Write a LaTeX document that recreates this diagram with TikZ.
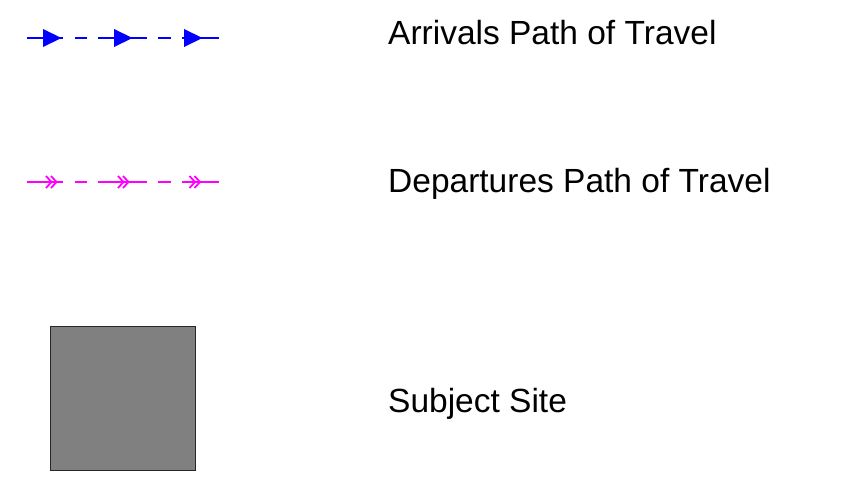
\documentclass[tikz,border=0pt]{standalone}
\usepackage{fontspec}
\setmainfont{Liberation Sans}
\definecolor{arrblue}{RGB}{0,0,255}
\definecolor{depmag}{RGB}{255,0,255}
\definecolor{sitegray}{RGB}{128,128,128}
\tikzset{
  legendtext/.style={anchor=base west, inner sep=0pt, font=\fontsize{33.5}{40}\selectfont},
  arrline/.style={draw=arrblue, line width=1.1pt},
  depline/.style={draw=depmag, line width=1.1pt},
  arrhead/.pic={\fill[arrblue] (0,-9) -- (18.5,0) -- (0,9) -- cycle;},
  dephead/.pic={
    \draw[depmag, line width=1.8pt, line join=miter] (0,-6) -- (5.5,0) -- (0,6);
    \draw[depmag, line width=1.8pt, line join=miter] (5,-6) -- (10.5,0) -- (5,6);
  },
}
\begin{document}
\begin{tikzpicture}[x=1pt, y=-1pt]
  \useasboundingbox (0,0) rectangle (849,479);

  % arrivals symbol
  \draw[arrline] (26.5,38) -- (63,38);
  \draw[arrline] (75,38) -- (86.5,38);
  \draw[arrline] (98,38) -- (147,38);
  \draw[arrline] (158,38) -- (170.5,38);
  \draw[arrline] (182,38) -- (219,38);
  \pic at (43,38) {arrhead};
  \pic at (114,38) {arrhead};
  \pic at (184,38) {arrhead};

  % departures symbol
  \draw[depline] (26.5,182) -- (63,182);
  \draw[depline] (74.5,182) -- (86.5,182);
  \draw[depline] (98,182) -- (147,182);
  \draw[depline] (158,182) -- (170.5,182);
  \draw[depline] (182,182) -- (219,182);
  \pic at (46,182) {dephead};
  \pic at (118,182) {dephead};
  \pic at (189.5,182) {dephead};

  % subject site
  \filldraw[fill=sitegray, draw=black!85, line width=0.9pt] (50.5,326) rectangle (195,470.5);

  % labels
  \node[legendtext] (arr) at (388,44.3) {Arrivals Path of Travel};
  \node[legendtext] (dep) at (388,192.3) {Departures Path of Travel};
  \node[legendtext] (site) at (388,412.3) {Subject Site};
\end{tikzpicture}
\end{document}
